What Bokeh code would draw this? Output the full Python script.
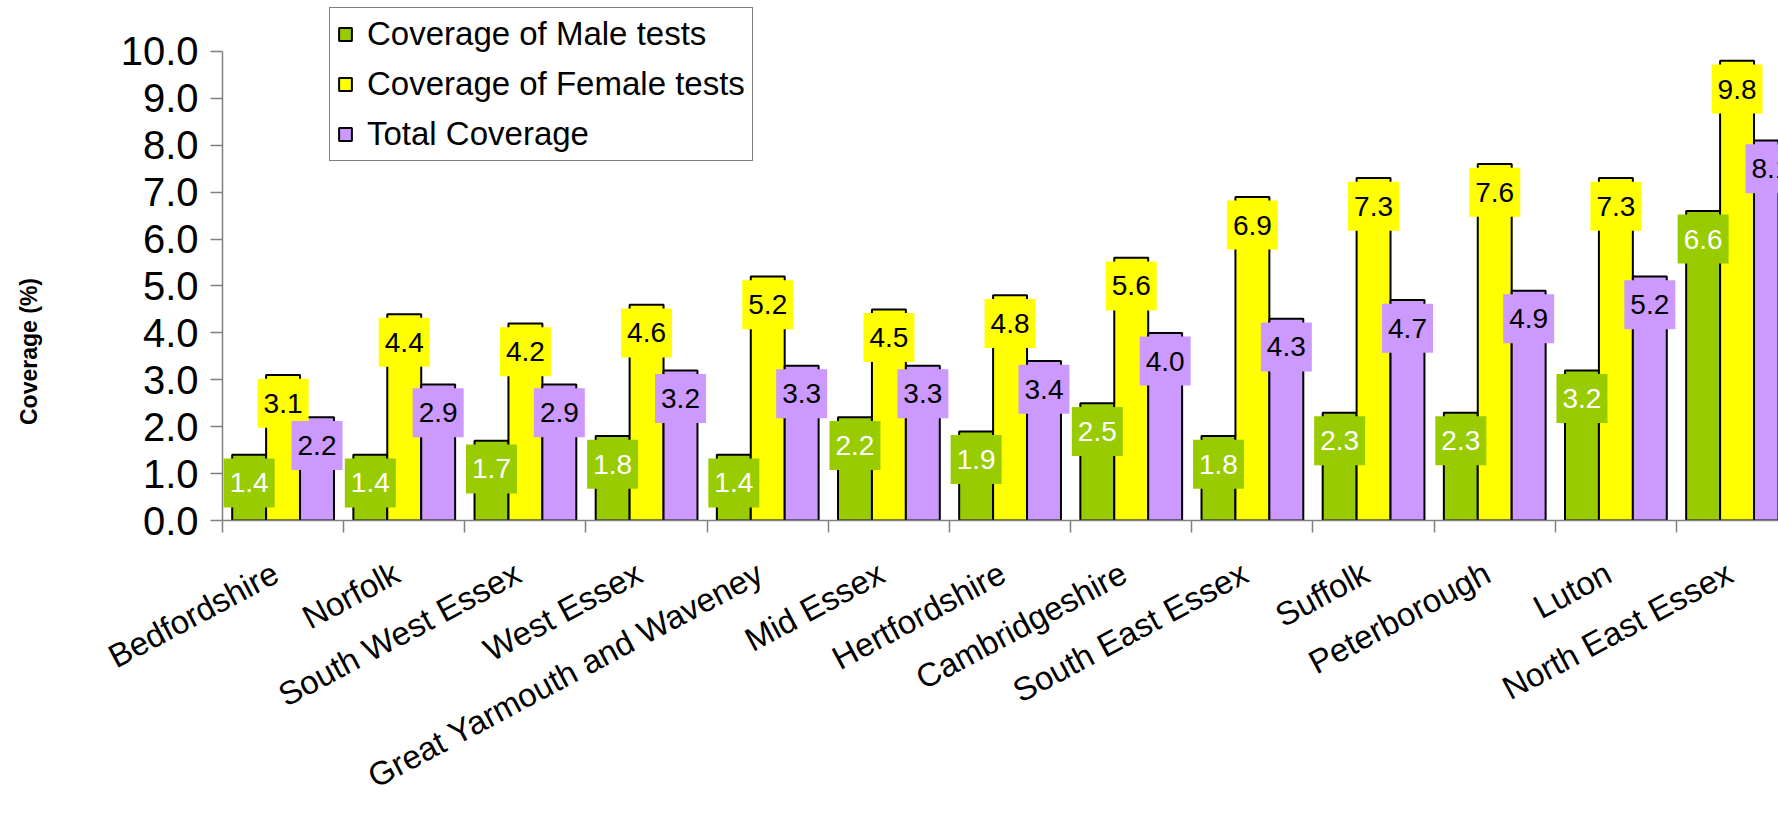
import math
from bokeh.plotting import figure
from bokeh.layouts import row
from bokeh.models import (Range1d, FixedTicker, ColumnDataSource, Legend,
                          NumeralTickFormatter)
from bokeh.core.properties import value
from bokeh.embed import file_html
from bokeh.resources import INLINE

areas = ["Bedfordshire", "Norfolk", "South West Essex", "West Essex",
         "Great Yarmouth and Waveney", "Mid Essex", "Hertfordshire",
         "Cambridgeshire", "South East Essex", "Suffolk", "Peterborough",
         "Luton", "North East Essex"]
male = [1.4, 1.4, 1.7, 1.8, 1.4, 2.2, 1.9, 2.5, 1.8, 2.3, 2.3, 3.2, 6.6]
female = [3.1, 4.4, 4.2, 4.6, 5.2, 4.5, 4.8, 5.6, 6.9, 7.3, 7.6, 7.3, 9.8]
total = [2.2, 2.9, 2.9, 3.2, 3.3, 3.3, 3.4, 4.0, 4.3, 4.7, 4.9, 5.2, 8.1]
series_names = ["Coverage of Male tests", "Coverage of Female tests", "Total Coverage"]
y_ticks = [0, 1, 2, 3, 4, 5, 6, 7, 8, 9, 10]
y_title = "Coverage (%)"

FONT = "Liberation Sans"
colors = ["#99CC00", "#FFFF00", "#CC99FF"]
text_colors = ["white", "black", "black"]
series = [male, female, total]
offsets = [-0.28, 0.0, 0.28]
bar_w = 0.28
n = len(areas)
centers = [i + 0.5 for i in range(n)]
label_pos = [c - 0.06 for c in centers]

TW, H = 60, 815
BOTTOM = 295          # space under the plot area for the category labels
FRAME_H = H - BOTTOM  # height of the plot area

# --- narrow figure holding the y-axis title ---
pt = figure(width=TW, height=H, x_range=Range1d(0, TW), y_range=Range1d(0, FRAME_H),
            output_backend="svg", toolbar_location=None, title=None,
            x_axis_location=None, y_axis_location=None,
            min_border_left=0, min_border_right=0, min_border_top=0,
            min_border_bottom=BOTTOM)
pt.outline_line_color = None
pt.xgrid.visible = False
pt.ygrid.visible = False
pt.text(x=[28.5], y=[FRAME_H - 351], text=[y_title], angle=math.pi / 2,
        text_align="center", text_baseline="middle", text_font=value(FONT),
        text_font_style="bold", text_font_size="23px", text_color="black")

# --- main chart ---
p = figure(width=1778 - TW, height=H, x_range=Range1d(0, 12.842), y_range=Range1d(0, 11.087),
           output_backend="svg", toolbar_location=None, title=None,
           min_border_left=222 - TW, min_border_right=0, min_border_top=0,
           min_border_bottom=BOTTOM)
p.outline_line_color = None
p.xgrid.visible = False
p.ygrid.visible = False
p.background_fill_color = "white"
p.border_fill_color = "white"

renderers = []
for k in range(3):
    src = ColumnDataSource(dict(x=[c + offsets[k] for c in centers], top=series[k]))
    r = p.vbar(x="x", top="top", bottom=0, width=bar_w, source=src,
               fill_color=colors[k], line_color="black", line_width=2)
    renderers.append(r)

for k in range(3):
    src = ColumnDataSource(dict(x=[c + offsets[k] for c in centers],
                                y=[v - 0.6 for v in series[k]],
                                lbl=[f"{v:.1f}" for v in series[k]]))
    p.rect(x="x", y="y", width=51, height=49, width_units="screen", height_units="screen",
           fill_color=colors[k], line_color=None, source=src)
    p.text(x="x", y="y", text="lbl", source=src, text_align="center", text_baseline="middle",
           text_font=value(FONT), text_font_size="28px", text_color=text_colors[k])

legend = Legend(items=[(series_names[k], [renderers[k]]) for k in range(3)],
                location=(107, 359))
legend.label_text_font = FONT
legend.label_text_font_size = "33px"
legend.label_text_color = "black"
legend.glyph_width = 16
legend.glyph_height = 16
legend.label_standoff = 14
legend.label_height = 30
legend.padding = 7
legend.spacing = 12
legend.margin = 0
legend.border_line_color = "black"
legend.border_line_width = 1.5
legend.background_fill_color = "white"
legend.background_fill_alpha = 1.0
p.add_layout(legend)

yax = p.yaxis[0]
yax.ticker = FixedTicker(ticks=y_ticks)
yax.formatter = NumeralTickFormatter(format="0.0")
yax.bounds = (0, 10)
yax.axis_line_color = "#808080"
yax.axis_line_width = 1.5
yax.major_tick_line_color = "#808080"
yax.major_tick_line_width = 1.5
yax.major_tick_out = 12
yax.major_tick_in = 0
yax.minor_tick_line_color = None
yax.major_label_text_font = FONT
yax.major_label_text_font_size = "40px"
yax.major_label_text_color = "black"
yax.major_label_standoff = 12

xax = p.xaxis[0]
xax.ticker = FixedTicker(ticks=label_pos, minor_ticks=list(range(n + 1)))
xax.major_label_overrides = {c: a for c, a in zip(label_pos, areas)}
xax.major_label_orientation = 0.49
xax.major_label_text_font = FONT
xax.major_label_text_font_size = "33px"
xax.major_label_text_color = "black"
xax.major_label_standoff = 38
xax.axis_line_color = "#808080"
xax.axis_line_width = 1.5
xax.minor_tick_line_color = "#808080"
xax.minor_tick_line_width = 1.5
xax.minor_tick_out = 12
xax.minor_tick_in = 0
xax.major_tick_out = 0
xax.major_tick_in = 0
xax.major_tick_line_color = None

layout = row(pt, p, spacing=0)
open("out.html", "w").write(file_html(layout, INLINE))
